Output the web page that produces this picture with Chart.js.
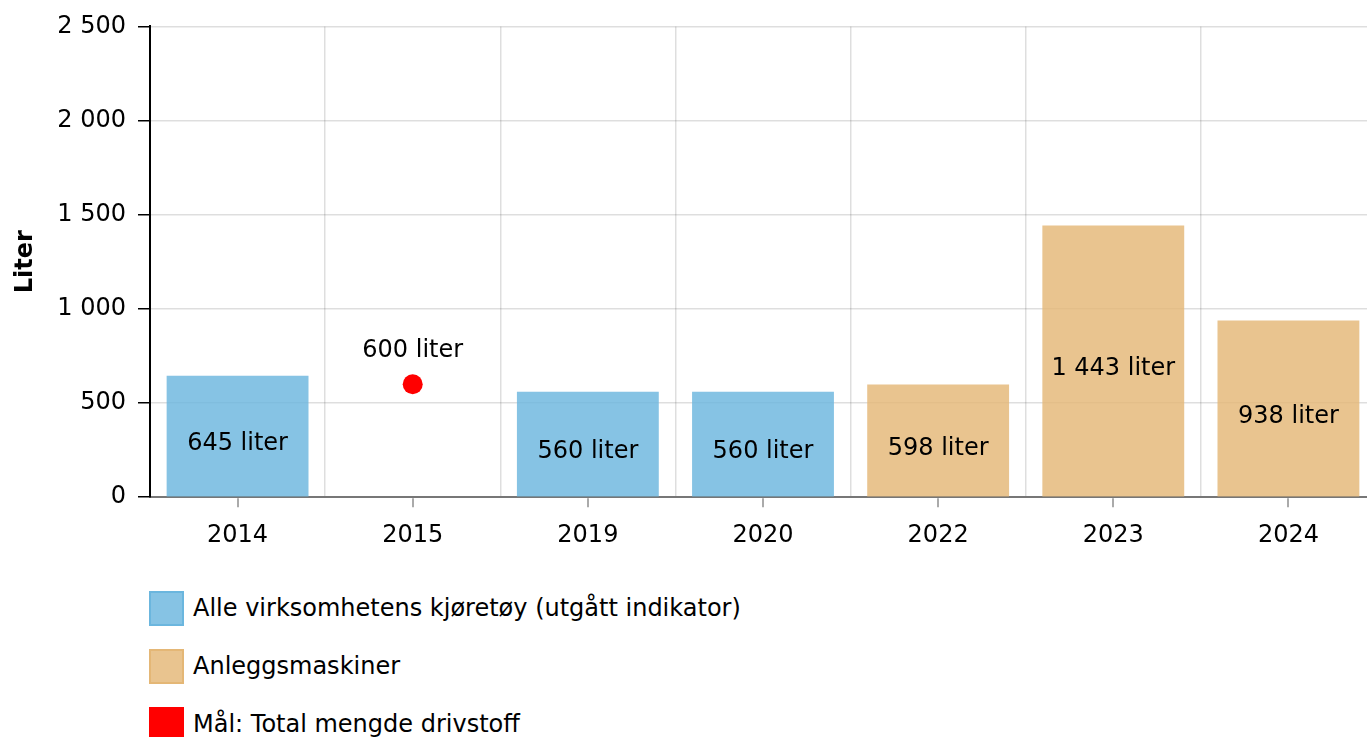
<!DOCTYPE html>
<html>
<head>
<meta charset="utf-8">
<script src="https://cdn.jsdelivr.net/npm/chart.js@4.4.0/dist/chart.umd.min.js"></script>
<style>
html, body { margin: 0; background: #fff; font-family: "DejaVu Sans", sans-serif; overflow: hidden; }
#wrap { position: relative; width: 1376px; height: 574px; }
#legend { list-style: none; margin: 5px 0 0 149px; padding: 0; }
#legend li { display: flex; align-items: center; height: 58px; font-size: 24px; color: #000; }
#legend .box { width: 31px; height: 31px; border: 2px solid; margin-right: 9px; box-sizing: content-box; }
</style>
</head>
<body>
<div id="wrap"><canvas id="chart"></canvas></div>
<ul id="legend"></ul>
<script>
// data
const years = ['2014', '2015', '2019', '2020', '2022', '2023', '2024'];
const kjoretoy = [645, null, 560, 560, null, null, null];
const anlegg = [null, null, null, null, 598, 1443, 938];
const maal = [null, 600, null, null, null, null, null];
const yTicks = [0, 500, 1000, 1500, 2000, 2500];

function fmt(v) {
    return String(v).replace(/\B(?=(\d{3})+(?!\d))/g, ' ');
}

// value labels on bars and above the point
const valueLabels = {
    id: 'valueLabels',
    afterDatasetsDraw(chart) {
        const ctx = chart.ctx;
        ctx.save();
        ctx.font = '24px "DejaVu Sans"';
        ctx.fillStyle = '#000';
        ctx.textAlign = 'center';
        ctx.textBaseline = 'middle';
        chart.data.datasets.forEach((ds, i) => {
            const meta = chart.getDatasetMeta(i);
            meta.data.forEach((el, j) => {
                const v = ds.data[j];
                if (v == null) return;
                let y;
                if (ds.type === 'bar') {
                    y = (el.y + el.base) / 2 + 8;
                } else {
                    y = el.y - 33;
                }
                ctx.fillText(fmt(v) + ' liter', el.x, y);
            });
        });
        ctx.restore();
    }
};

// tick marks under each category (grid lines sit between categories)
const centerTicks = {
    id: 'centerTicks',
    afterDraw(chart) {
        const x = chart.scales.x;
        const ctx = chart.ctx;
        ctx.save();
        ctx.strokeStyle = '#aaa';
        ctx.lineWidth = 2;
        years.forEach((y, i) => {
            const px = Math.round(x.getPixelForValue(i));
            ctx.beginPath();
            ctx.moveTo(px, x.top + 1);
            ctx.lineTo(px, x.top + 10);
            ctx.stroke();
        });
        ctx.restore();
    }
};

Chart.defaults.font.family = '"DejaVu Sans", sans-serif';
Chart.defaults.font.size = 24;
Chart.defaults.color = '#000';

const chart = new Chart(document.getElementById('chart').getContext('2d'), {
    type: 'bar',
    data: {
        labels: years,
        datasets: [
            {
                type: 'bar',
                label: 'Alle virksomhetens kjøretøy (utgått indikator)',
                data: kjoretoy,
                backgroundColor: 'rgba(107,182,222,0.82)',
                borderColor: 'rgb(107,182,222)',
                barPercentage: 0.81,
                categoryPercentage: 1,
                order: 2
            },
            {
                type: 'bar',
                label: 'Anleggsmaskiner',
                data: anlegg,
                backgroundColor: 'rgba(228,183,118,0.82)',
                borderColor: 'rgb(228,183,118)',
                barPercentage: 0.81,
                categoryPercentage: 1,
                order: 2
            },
            {
                type: 'line',
                label: 'Mål: Total mengde drivstoff',
                data: maal,
                showLine: false,
                pointRadius: 10,
                pointHoverRadius: 10,
                pointBackgroundColor: '#ff0000',
                pointBorderWidth: 0,
                backgroundColor: '#ff0000',
                borderColor: '#ff0000',
                order: 1
            }
        ]
    },
    options: {
        responsive: true,
        maintainAspectRatio: false,
        animation: false,
        layout: { autoPadding: false, padding: { top: 6, right: 0, bottom: 0, left: 0 } },
        plugins: {
            legend: { display: false },
            tooltip: { enabled: false }
        },
        scales: {
            x: {
                stacked: true,
                grid: {
                    offset: true,
                    drawTicks: false,
                    color: 'rgba(0,0,0,0.13)',
                    lineWidth: 1.5
                },
                border: { color: '#777', width: 2 },
                ticks: { padding: 24, font: { size: 24 } }
            },
            y: {
                min: 0,
                max: 2500,
                afterBuildTicks(scale) {
                    scale.ticks = yTicks.map(v => ({ value: v }));
                },
                afterFit(scale) { scale.width = 150; },
                grid: {
                    color: 'rgba(0,0,0,0.13)',
                    lineWidth: 1.5,
                    tickColor: '#000',
                    tickLength: 12
                },
                border: { color: '#000', width: 2 },
                ticks: {
                    padding: 12,
                    font: { size: 24 },
                    callback: v => fmt(v)
                },
                title: {
                    display: true,
                    text: 'Liter',
                    font: { size: 24, weight: 'bold' },
                    padding: { top: 11, bottom: 0 }
                }
            }
        }
    },
    plugins: [valueLabels, centerTicks]
});

// legend as a vertical list under the chart
const legendEl = document.getElementById('legend');
chart.data.datasets.forEach(ds => {
    const li = document.createElement('li');
    const box = document.createElement('span');
    box.className = 'box';
    box.style.background = ds.backgroundColor;
    box.style.borderColor = ds.borderColor;
    li.appendChild(box);
    li.appendChild(document.createTextNode(ds.label));
    legendEl.appendChild(li);
});
</script>
</body>
</html>
